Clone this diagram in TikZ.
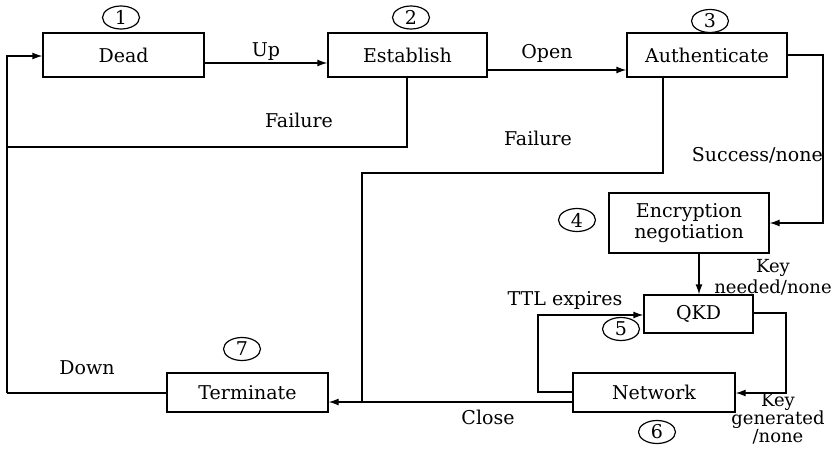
\documentclass[tikz,border=0pt]{standalone}
\usepackage{fontspec}
\setmainfont{DejaVu Serif}
\usetikzlibrary{shapes.geometric,arrows.meta}
\begin{document}
\begin{tikzpicture}[x=1pt,y=-1pt,
  every node/.style={font=\fontsize{19}{22}\selectfont},
  box/.style={draw, line width=1.3pt, inner sep=0pt, align=center},
  num/.style={draw, ellipse, line width=1.2pt, inner sep=0pt, minimum width=37pt, minimum height=23pt},
  lbl/.style={inner sep=0pt, align=center},
  small/.style={font=\fontsize{18}{21}\selectfont},
  conn/.style={line width=1.3pt},
  arr/.style={conn, -{Latex[length=10pt,width=7pt]}}]
\useasboundingbox (0,0) rectangle (836,450);
% boxes
\node[box, minimum width=161pt, minimum height=44pt] (dead) at (123.5,55) {Dead};
\node[box, minimum width=159pt, minimum height=44pt] (est) at (407.5,55) {Establish};
\node[box, minimum width=160pt, minimum height=44pt] (auth) at (707,55) {Authenticate};
\node[box, minimum width=160pt, minimum height=60pt] (enc) at (689,223) {Encryption\\[-1pt]negotiation};
\node[box, minimum width=109pt, minimum height=38pt] (qkd) at (698.5,314) {QKD};
\node[box, minimum width=162pt, minimum height=39pt] (net) at (654,392.5) {Network};
\node[box, minimum width=161pt, minimum height=39pt] (term) at (247.5,392.5) {Terminate};
% numbers
\node[num] (n1) at (121,17.5) {1};
\node[num] (n2) at (411,17.5) {2};
\node[num] (n3) at (710,21) {3};
\node[num] (n4) at (577,220) {4};
\node[num] (n5) at (621,329) {5};
\node[num] (n6) at (657,432) {6};
\node[num] (n7) at (242,349) {7};
% helper coordinates
\coordinate (upy) at (0,63);
\coordinate (openy) at (0,70);
\coordinate (f1a) at (407,147);
\coordinate (f1b) at (7,147);
\coordinate (downc) at (7,393);
\coordinate (deadc) at (7,56);
\coordinate (f2a) at (663,173);
\coordinate (f2b) at (362,173);
\coordinate (f2c) at (362,402);
\coordinate (closey) at (0,402);
\coordinate (sa) at (823,55);
\coordinate (sb) at (823,223);
\coordinate (kx) at (699,0);
\coordinate (ga) at (786,313);
\coordinate (gb) at (786,393);
\coordinate (ta) at (538,392);
\coordinate (tb) at (538,315);
% connectors
\draw[arr] (dead.east |- upy) -- (est.west |- upy);
\draw[arr] (est.east |- openy) -- (auth.west |- openy);
\draw[conn] (est.south -| f1a) -- (f1a) -- (f1b) -- (downc |- f1b);
\draw[conn] (term.west |- downc) -- (downc);
\draw[arr] (downc) -- (deadc) -- (dead.west |- deadc);
\draw[conn] (auth.south -| f2a) -- (f2a) -- (f2b) -- (f2c);
\draw[arr] (net.west |- closey) -- (term.east |- closey);
\draw[arr] (auth.east |- sa) -- (sa) -- (sb) -- (enc.east |- sb);
\draw[arr] (enc.south -| kx) -- (qkd.north -| kx);
\draw[arr] (qkd.east |- ga) -- (ga) -- (gb) -- (net.east |- gb);
\draw[arr] (net.west |- ta) -- (ta) -- (tb) -- (qkd.west |- tb);
% labels
\node[lbl] (lup) at (266,52) {Up};
\node[lbl] (lopen) at (547,53) {Open};
\node[lbl] (lf1) at (299,120) {Failure};
\node[lbl] (lf2) at (538,138) {Failure};
\node[lbl, anchor=east] (lsucc) at (823,155) {Success/none};
\node[lbl, small] (lkey) at (773,277) {Key\\[0pt]needed/none};
\node[lbl, small] (lgen) at (778,419) {Key\\[-3pt]generated\\[-3pt]/none};
\node[lbl] (lttl) at (565,300) {TTL expires};
\node[lbl] (lclose) at (488,417) {Close};
\node[lbl] (ldown) at (87,368) {Down};
\end{tikzpicture}
\end{document}
